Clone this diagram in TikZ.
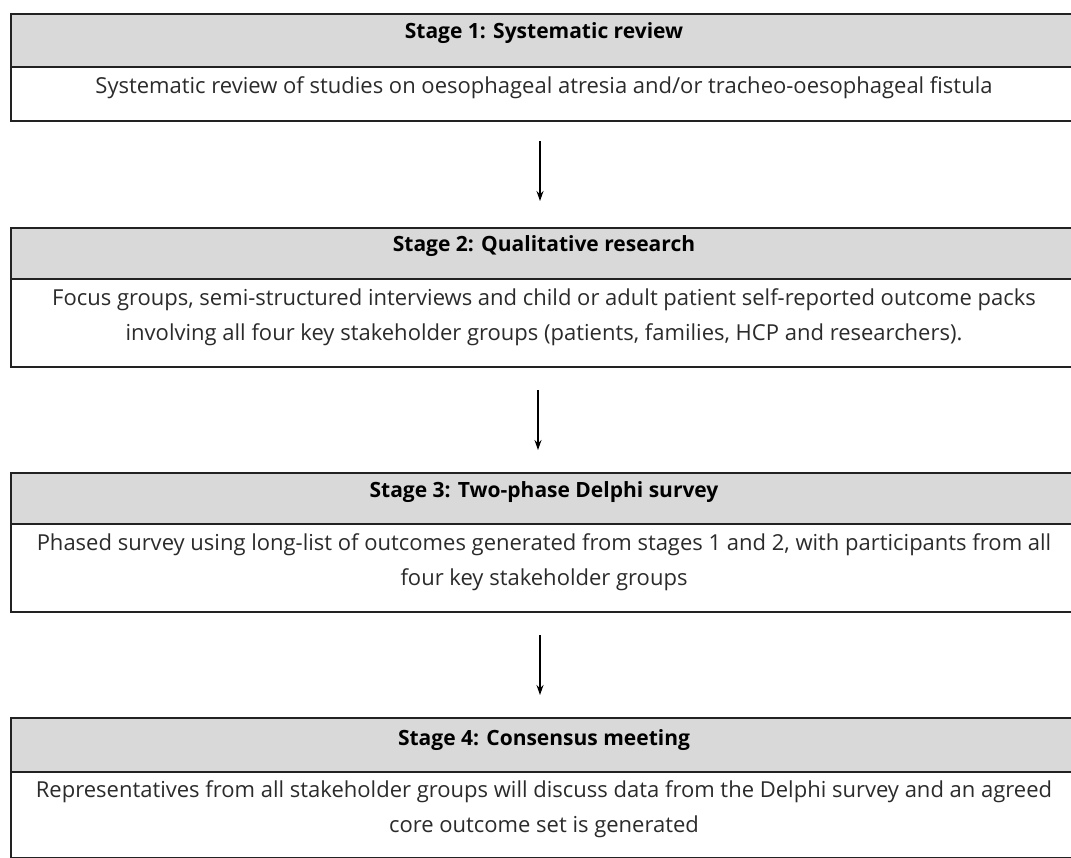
\documentclass[tikz,border=0pt]{standalone}
\usepackage{fontspec}
\setmainfont{Open Sans}
\usetikzlibrary{arrows.meta}
\definecolor{hdr}{HTML}{D9D9D9}
\definecolor{edge}{HTML}{222222}
\definecolor{txt}{HTML}{2B2B2B}
\tikzset{
  hdrbox/.style={draw=edge, line width=1.5pt, fill=hdr, minimum width=1066pt, inner sep=0pt, anchor=north},
  bodybox/.style={draw=edge, line width=1.5pt, fill=white, minimum width=1066pt, inner sep=0pt, anchor=north},
  hdrtext/.style={font=\fontsize{21}{25}\selectfont\bfseries, text=black, anchor=center},
  bodytext/.style={font=\fontsize{22}{35}\selectfont, text=txt, align=center, anchor=north},
  flow/.style={draw=black, line width=1.3pt, -{Stealth[length=10pt,width=7pt]}}
}
\begin{document}
\begin{tikzpicture}[x=1pt,y=-1pt]
\useasboundingbox (0,0) rectangle (1071,857);
\clip (0,0) rectangle (1071,857);
% Stage 1
\node[hdrbox, minimum height=53pt] (h1) at (544,13) {};
\node[bodybox, minimum height=54pt] (b1) at (544,66) {};
\node[hdrtext] (t1) at (544,33) {Stage 1: Systematic review};
\node[bodytext] (d1) at (544,73) {Systematic review of studies on oesophageal atresia and/or tracheo-oesophageal fistula};
% Stage 2
\node[hdrbox, minimum height=51pt] (h2) at (544,227) {};
\node[bodybox, minimum height=88pt] (b2) at (544,278) {};
\node[hdrtext] (t2) at (544,246) {Stage 2: Qualitative research};
\node[bodytext] (d2) at (544,285) {Focus groups, semi-structured interviews and child or adult patient self-reported outcome packs\\involving all four key stakeholder groups (patients, families, HCP and researchers).};
% Stage 3
\node[hdrbox, minimum height=51pt] (h3) at (544,472) {};
\node[bodybox, minimum height=88pt] (b3) at (544,523) {};
\node[hdrtext] (t3) at (544,492) {Stage 3: Two-phase Delphi survey};
\node[bodytext] (d3) at (544,530) {Phased survey using long-list of outcomes generated from stages 1 and 2, with participants from all\\four key stakeholder groups};
% Stage 4
\node[hdrbox, minimum height=54pt] (h4) at (544,717) {};
\node[bodybox, minimum height=86pt] (b4) at (544,771) {};
\node[hdrtext] (t4) at (544,740) {Stage 4: Consensus meeting};
\node[bodytext] (d4) at (544,777) {Representatives from all stakeholder groups will discuss data from the Delphi survey and an agreed\\core outcome set is generated};
% arrows
\coordinate (a1s) at (540,141); \coordinate (a1e) at (540,201);
\coordinate (a2s) at (538,390); \coordinate (a2e) at (538,450);
\coordinate (a3s) at (540,635); \coordinate (a3e) at (540,695);
\draw[flow] (a1s) -- (a1e);
\draw[flow] (a2s) -- (a2e);
\draw[flow] (a3s) -- (a3e);
\end{tikzpicture}
\end{document}
